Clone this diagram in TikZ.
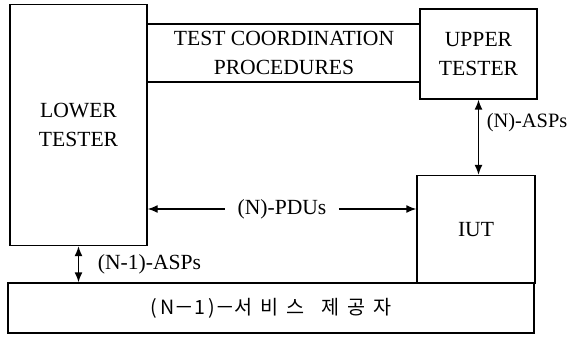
\documentclass[tikz,border=0pt]{standalone}
\usepackage{fontspec}
\setmainfont{Liberation Serif}
\newfontfamily\cjk{Noto Sans CJK KR}
\usepackage{tikz}
\usetikzlibrary{positioning,arrows.meta}
\tikzset{
  box/.style={draw, line width=0.7pt, inner sep=0pt, align=center},
  conn/.style={line width=0.7pt, {Latex[length=5pt,width=4pt]}-{Latex[length=5pt,width=4pt]}}
}

\begin{document}
\begin{tikzpicture}[x=0.5pt, y=-0.5pt, font=\fontsize{10.8}{14.5}\selectfont]
  \useasboundingbox (0,0) rectangle (568,342);
  % boxes
  \node[box, minimum width=68.5pt, minimum height=120.5pt] (lower) at (78.5,125) {LOWER\\TESTER};
  \node[box, minimum width=58.5pt, minimum height=45pt] (upper) at (478.5,54) {UPPER\\TESTER};
  \node[box, minimum width=59pt, minimum height=54pt] (iut) at (476,229.5) {IUT};
  \node[box, minimum width=263pt, minimum height=25pt] (svc) at (271,308)
    {\cjk\fontsize{9.8}{11}\selectfont (\,N－1\,)－서\ \,비\ \,스\ \ \ \ 제\ \,공\ \,자};
  % test coordination procedures
  \node[inner sep=0pt, minimum height=28.5pt, align=center] (tcp) at (284,53) {TEST COORDINATION\\PROCEDURES};
  \draw[line width=0.7pt] (lower.east |- tcp.north) -- (upper.west |- tcp.north);
  \draw[line width=0.7pt] (lower.east |- tcp.south) -- (upper.west |- tcp.south);
  % PDUs
  \node[inner sep=0pt] (pdu) at (282,209) {(N)-PDUs};
  \draw[line width=0.7pt, {Latex[length=5pt,width=4pt]}-] (lower.east |- pdu) -- ([xshift=-6pt]pdu.west);
  \draw[line width=0.7pt, -{Latex[length=5pt,width=4pt]}] ([xshift=6pt]pdu.east) -- (iut.west |- pdu);
  % service primitives
  \draw[conn] (upper.south) -- (upper.south |- iut.north)
    node[pos=0.3, right=0.5pt, font=\fontsize{10.2}{12}\selectfont] {(N)-ASPs};
  \draw[conn] (lower.south) -- (lower.south |- svc.north) node[midway, right=6pt] {(N-1)-ASPs};
\end{tikzpicture}
\end{document}
